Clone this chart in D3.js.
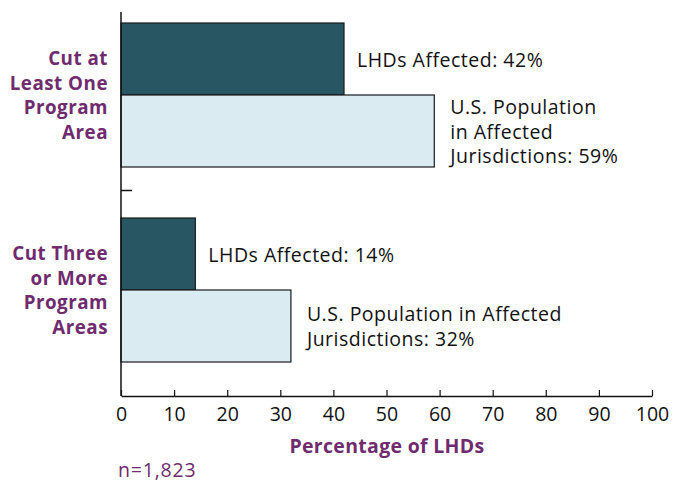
<!DOCTYPE html>
<html><head><meta charset="utf-8">
<script src="https://cdn.jsdelivr.net/npm/d3@7"></script>
<style>body{margin:0;background:#fff}svg{display:block}text{font-family:"Open Sans","Noto Sans",sans-serif}</style>
</head><body>
<script>
const categories = ["Cut at Least One Program Area", "Cut Three or More Program Areas"];
const categoryLines = [["Cut at","Least One","Program","Area"],["Cut Three","or More","Program","Areas"]];
const seriesNames = ["LHDs Affected", "U.S. Population in Affected Jurisdictions"];
const lhdValues = [42, 14];
const popValues = [59, 32];
const valueLabels = [
  [["LHDs Affected: 42%"], ["U.S. Population","in Affected","Jurisdictions: 59%"]],
  [["LHDs Affected: 14%"], ["U.S. Population in Affected","Jurisdictions: 32%"]]
];
const xTicks = [0,10,20,30,40,50,60,70,80,90,100];

const W=673,H=482;
const FS=19.5;
const svg=d3.select("body").append("svg").attr("width",W).attr("height",H);
const x=d3.scaleLinear().domain([0,100]).range([121,652]);
const y=d3.scaleBand().domain(categories).range([-2.5,387.5]);
const sub=d3.scaleBand().domain(seriesNames).range([y.bandwidth()/2-72, y.bandwidth()/2+72]);
const colors=["#285763","#dbebf2"];
const purple="#6f2b6e";

const g=svg.append("g");
categories.forEach((c,i)=>{
  const vals=[lhdValues[i],popValues[i]];
  seriesNames.forEach((s,j)=>{
    g.append("rect").attr("x",x(0)).attr("y",y(c)+sub(s)).attr("width",x(vals[j])-x(0)).attr("height",sub.bandwidth())
      .attr("fill",colors[j]).attr("stroke","#1a1a1a").attr("stroke-width",1.2);
    const lines=valueLabels[i][j];
    const cy=y(c)+sub(s)+sub.bandwidth()/2;
    const lh=24.5;
    const tx=x(vals[j])+(j===0?13:16);
    const t=g.append("text").attr("x",tx).attr("font-size",FS).attr("letter-spacing",0.5).attr("fill","#111");
    lines.forEach((l,k)=>{
      t.append("tspan").attr("x",tx).attr("y",cy+(k-(lines.length-1)/2)*lh+7.5).text(l);
    });
  });
  const cl=categoryLines[i];
  const cy=y(c)+y.bandwidth()/2;
  const t=g.append("text").attr("text-anchor","end").attr("font-size",18.8).attr("font-weight","bold").attr("letter-spacing",0.5).attr("fill",purple);
  cl.forEach((l,k)=>{
    t.append("tspan").attr("x",108).attr("y",cy+(k-(cl.length-1)/2)*24.4+7).text(l);
  });
});

// y axis line
svg.append("line").attr("x1",x(0)).attr("x2",x(0)).attr("y1",12).attr("y2",396).attr("stroke","#111").attr("stroke-width",1.5);
// inner divider tick
svg.append("line").attr("x1",x(0)).attr("x2",x(0)+11).attr("y1",y(categories[1])-2).attr("y2",y(categories[1])-2).attr("stroke","#111").attr("stroke-width",1.5);

// x axis
const xa=svg.append("g").attr("transform","translate(0,396)")
  .call(d3.axisBottom(x).tickValues(xTicks).tickSize(-6).tickPadding(11).tickSizeOuter(0));
xa.select(".domain").attr("stroke","#111").attr("stroke-width",1.5);
xa.selectAll(".tick line").attr("stroke","#111").attr("stroke-width",1.2);
xa.selectAll(".tick text").attr("font-size",FS).attr("fill","#111").attr("font-family","'Open Sans',sans-serif");

svg.append("text").attr("x",387).attr("y",453).attr("text-anchor","middle").attr("font-size",FS).attr("font-weight","bold").attr("letter-spacing",0.3).attr("fill",purple).text("Percentage of LHDs");
svg.append("text").attr("x",118).attr("y",477).attr("font-size",FS).attr("letter-spacing",0.8).attr("fill",purple).text("n=1,823");
</script>
</body></html>
